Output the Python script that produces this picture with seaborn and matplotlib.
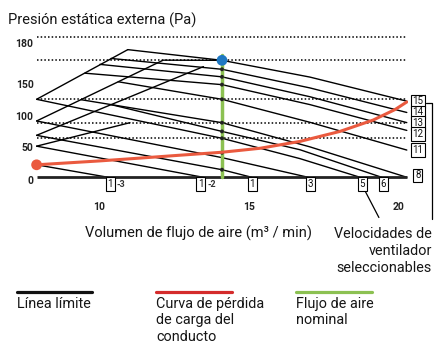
import matplotlib
matplotlib.use("Agg")
import matplotlib.pyplot as plt
from matplotlib.lines import Line2D
import pandas as pd
import seaborn as sns

# ---------------- data ----------------
x_ticks = [10, 15, 20]
x_tick_labels = ["10", "15", "20"]
y_tick_pos = [-3.5, 39, 78, 120, 172.5]
y_tick_labels = ["0", "50", "100", "150", "180"]
esp_levels = [180, 150, 100, 70, 50]          # dotted pressure levels (Pa)
flow_min, flow_max = 7.93, 20.27
nominal_flow = 14.11                          # m3/min
nominal_top = 157

# fan-speed curves (x: m3/min, y: Pa)
fan_15_x = [10.97, 14.11, 17.04, 20.27]; fan_15_y = [163.7, 150.0, 128.5, 97.6]
fan_14_x = [10.41, 14.11, 17.04, 20.27]; fan_14_y = [152.4, 138.5, 114.6, 83.1]
fan_13_x = [10.04, 14.11, 17.04, 20.27]; fan_13_y = [144.8, 128.8, 103.3, 70.1]
fan_12_x = [9.54, 14.11, 17.04, 20.27];  fan_12_y = [133.5, 118.8, 93.2, 60.1]
fan_11_x = [10.65, 14.11, 17.04, 20.27]; fan_11_y = [122.5, 100.0, 70.5, 34.9]
fan_8_x = [9.41, 14.11, 17.04, 20.27];   fan_8_y = [99.5, 70.0, 39.0, 0.0]
fan_6_x = [10.41, 14.11, 16.71, 19.43];  fan_6_y = [93.2, 58.8, 35.3, 0.0]
fan_5_x = [7.93, 14.11, 16.71, 18.71];   fan_5_y = [100.0, 50.0, 23.9, 0.0]
fan_3_x = [7.93, 14.11, 16.98];          fan_3_y = [72.2, 25.2, 0.0]
fan_1_x = [7.93, 14.11, 15.10];          fan_1_y = [53.8, 9.7, 0.0]
fan_1m2_x = [7.93, 13.48];               fan_1m2_y = [39.9, 0.0]
fan_1m3_x = [7.93, 10.31];               fan_1m3_y = [16.0, 0.0]

# limit lines
limit_a_x = [7.93, 10.97];               limit_a_y = [100.0, 163.7]
limit_b_x = [7.93, 12.15, 14.11];        limit_b_y = [72.2, 150.2, 150.0]
limit_c_x = [7.93, 13.49];               limit_c_y = [53.8, 141.9]
limit_d_x = [7.93, 11.04];               limit_d_y = [39.9, 70.0]

# duct pressure-loss curve
duct_x = [7.93, 10.04, 11.38, 12.71, 14.11, 15.38, 16.71, 18.04, 19.15, 19.88, 20.27]
duct_y = [16.0, 21.0, 24.6, 28.3, 32.1, 37.2, 46.0, 58.8, 73.4, 86.9, 96.6]

# crossing points on the nominal flow line
nominal_dots_y = [138.5, 128.8, 118.8, 100.0, 70.0, 58.8, 50.0, 31.5, 9.7]
nominal_point_y = 150.0

# speed labels
bottom_labels = ["1", "1", "1", "3", "5", "6"]
bottom_suffix = ["-3", "-2", "", "", "", ""]
bottom_label_x = [10.38, 13.40, 15.11, 17.06, 18.78, 19.49]
right_labels = ["15", "14", "13", "12", "11", "8"]
right_label_y = [97.4, 83.1, 69.3, 55.4, 34.9, 2.5]

# ---------------- drawing ----------------
sns.set_theme(style="white")
plt.rcParams["font.family"] = ["Roboto", "DejaVu Sans"]

W, H = 444, 345
TXT = "#161616"
fig = plt.figure(figsize=(W / 100, H / 100), dpi=100)
ax = fig.add_axes([35.7 / W, (H - 180) / H, (407.7 - 35.7) / W, (180 - 29.13) / H])
ax.set_xlim(7.9, 20.3)
ax.set_ylim(0, 190)
for s in ax.spines.values():
    s.set_visible(False)

fan = [(fan_15_x, fan_15_y, "15"), (fan_14_x, fan_14_y, "14"), (fan_13_x, fan_13_y, "13"),
       (fan_12_x, fan_12_y, "12"), (fan_11_x, fan_11_y, "11"), (fan_8_x, fan_8_y, "8"),
       (fan_6_x, fan_6_y, "6"), (fan_5_x, fan_5_y, "5"), (fan_3_x, fan_3_y, "3"),
       (fan_1_x, fan_1_y, "1"), (fan_1m2_x, fan_1m2_y, "1-2"), (fan_1m3_x, fan_1m3_y, "1-3"),
       (limit_a_x, limit_a_y, "LA"), (limit_b_x, limit_b_y, "LB"),
       (limit_c_x, limit_c_y, "LC"), (limit_d_x, limit_d_y, "LD")]
rows = []
for xs, ys, name in fan:
    for i, (xv, yv) in enumerate(zip(xs, ys)):
        rows.append({"x": xv, "y": yv, "curve": name, "order": i})
df = pd.DataFrame(rows)

# dotted ESP levels
for lvl in esp_levels:
    ax.plot([flow_min, flow_max], [lvl, lvl], color="black", lw=1.1,
            linestyle=(0, (1, 1.4)), clip_on=False, zorder=1)

sns.lineplot(data=df, x="x", y="y", units="curve", estimator=None, sort=False,
             color="black", lw=1.0, ax=ax, zorder=2, legend=False)

# baseline
ax.plot([flow_min, flow_max], [0, 0], color="#222222", lw=2.0, clip_on=False,
        solid_capstyle="butt", zorder=3)

# nominal flow line
ax.plot([nominal_flow, nominal_flow], [0, nominal_top], color="#8cc152", lw=2.5,
        clip_on=False, zorder=4)
sns.scatterplot(x=[nominal_flow] * len(nominal_dots_y), y=nominal_dots_y, color="#222222",
                s=8, ax=ax, zorder=5, edgecolor="none", legend=False)

# duct curve
sns.lineplot(x=duct_x, y=duct_y, sort=False, color="#ea5a3f", lw=2.2, ax=ax, zorder=6)
sns.scatterplot(x=[duct_x[0]], y=[duct_y[0]], color="#ea5a3f", s=60, edgecolor="none",
                ax=ax, zorder=7, clip_on=False)
sns.scatterplot(x=[nominal_flow], y=[nominal_point_y], color="#1f78c2", s=60,
                edgecolor="none", ax=ax, zorder=7)

# ticks
ax.set_xticks(x_ticks)
ax.set_xticklabels(x_tick_labels)
ax.set_yticks(y_tick_pos)
ax.set_yticklabels(y_tick_labels)
ax.tick_params(axis="x", length=0, pad=16, labelsize=7.5, labelcolor="#222222")
ax.tick_params(axis="y", length=0, pad=1.5, labelsize=7.5, labelcolor="#222222")
for t in ax.get_xticklabels() + ax.get_yticklabels():
    t.set_fontweight("bold")
ax.set_xlabel("")
ax.set_ylabel("")

box = dict(boxstyle="square,pad=0.18", fc="white", ec="black", lw=0.8)
for lab, suf, xv in zip(bottom_labels, bottom_suffix, bottom_label_x):
    ax.text(xv, -8.8, lab, ha="center", va="center", fontsize=7, bbox=box, clip_on=False,
            color="#111111")
    if suf:
        ax.text(xv + 0.22, -8.8, suf, ha="left", va="center", fontsize=6.5,
                fontweight="bold", color="#333333", clip_on=False)
for lab, yv in zip(right_labels, right_label_y):
    ax.text(20.64, yv, lab, ha="center", va="center", fontsize=7, bbox=box, clip_on=False,
            color="#111111")

# bracket & pointer
ax.plot([20.9, 21.11, 21.11], [95.7, 95.7, -52.9], color="black", lw=0.9, clip_on=False)
ax.plot([18.88, 19.34], [-17.6, -51.6], color="black", lw=0.9, clip_on=False)

# texts
fig.text(8 / W, 1 - 20 / H, "Presión estática externa (Pa)", fontsize=10.5, ha="left",
         va="center", color=TXT)
fig.text(198 / W, 1 - 233 / H, "Volumen de flujo de aire (m³ / min)", fontsize=10.5,
         ha="center", va="center", color=TXT)
fig.text(432 / W, 1 - 251 / H, "Velocidades de\nventilador\nseleccionables", fontsize=10.4,
         ha="right", va="center", color=TXT, linespacing=1.3)

# legend
leg_y = 1 - 292.3 / H
for x0, x1, c in [(17, 92, "#111111"), (156, 232, "#d42b2b"), (296, 372, "#8cc152")]:
    fig.add_artist(Line2D([x0 / W, x1 / W], [leg_y, leg_y], color=c, lw=2.3,
                          transform=fig.transFigure))
fig.text(17 / W, 1 - 297 / H, "Línea límite", fontsize=10.4, ha="left", va="top",
         linespacing=1.22, color=TXT)
fig.text(156 / W, 1 - 297 / H, "Curva de pérdida\nde carga del\nconducto", fontsize=10.4,
         ha="left", va="top", linespacing=1.22, color=TXT)
fig.text(296 / W, 1 - 297 / H, "Flujo de aire\nnominal", fontsize=10.4, ha="left", va="top",
         linespacing=1.22, color=TXT)

fig.savefig("out.png", dpi=100)
